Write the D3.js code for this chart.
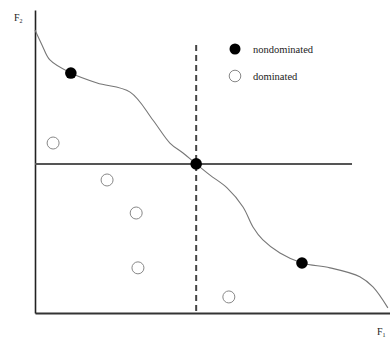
<!DOCTYPE html>
<html>
<head>
<meta charset="utf-8">
<script src="https://cdn.jsdelivr.net/npm/d3@7"></script>
<style>
  html, body { margin: 0; padding: 0; background: #fff; }
  svg { display: block; }
  text { font-family: "Liberation Serif", "Times New Roman", serif; fill: #222; }
</style>
</head>
<body>
<svg id="chart" width="390" height="337"></svg>
<script>
// Pareto front curve (F1, F2)
const frontF1 = [0, 2, 4.2, 10.1, 17.5, 26.8, 33.2, 38, 41.7, 45.4, 49.3, 54.1, 58.6, 61.4, 64.2, 69, 75.2, 83.1, 91.5, 95.2, 99.4];
const frontF2 = [93.4, 88.4, 83.5, 79.2, 75.9, 72.9, 63.7, 56.1, 52.8, 49.2, 45.5, 41.3, 35, 28.4, 24.1, 19.8, 16.5, 14.9, 12, 8.6, 1.7];
// Nondominated solutions
const nondomF1 = [10.1, 45.4, 75.2];
const nondomF2 = [79.2, 49.2, 16.5];
// Dominated solutions
const domF1 = [5.1, 20.3, 28.5, 29, 54.6];
const domF2 = [56.1, 43.9, 33, 14.9, 5.3];
// Reference lines through the middle nondominated point
const refF1 = 45.4, refF2 = 49.2, refF1End = 89.3, refF2End = 89.4;
const legendLabels = ["nondominated", "dominated"];

const svg = d3.select("#chart");
const x = d3.scaleLinear().domain([0, 100]).range([35, 390]);
const y = d3.scaleLinear().domain([0, 100]).range([313, 10]);

// axes (plain lines, no ticks)
svg.append("g").attr("transform", `translate(0,${y(0)})`)
  .call(d3.axisBottom(x).tickValues([]).tickSizeOuter(0))
  .call(g => g.select(".domain").attr("stroke", "#333").attr("stroke-width", 2));
svg.append("g").attr("transform", `translate(${x(0)},0)`)
  .call(d3.axisLeft(y).tickValues([]).tickSizeOuter(0))
  .call(g => g.select(".domain").attr("stroke", "#222").attr("stroke-width", 1.6));

// axis labels
const f2 = svg.append("text").attr("x", 14).attr("y", 21).attr("font-size", 10);
f2.append("tspan").text("F");
f2.append("tspan").attr("font-size", 6).attr("dy", 2).text("2");
const f1 = svg.append("text").attr("x", 377).attr("y", 335).attr("font-size", 10);
f1.append("tspan").text("F");
f1.append("tspan").attr("font-size", 6).attr("dy", 2).text("1");

// horizontal reference line
svg.append("line")
  .attr("x1", x(0)).attr("x2", x(refF1End))
  .attr("y1", y(refF2)).attr("y2", y(refF2))
  .attr("stroke", "#555").attr("stroke-width", 2);
// vertical dashed reference line
svg.append("line")
  .attr("x1", x(refF1)).attr("x2", x(refF1))
  .attr("y1", y(0.7)).attr("y2", y(refF2End))
  .attr("stroke", "#444").attr("stroke-width", 2)
  .attr("stroke-dasharray", "6,4");

// front curve
const front = frontF1.map((v, i) => [v, frontF2[i]]);
svg.append("path")
  .datum(front)
  .attr("fill", "none")
  .attr("stroke", "#777")
  .attr("stroke-width", 1.1)
  .attr("d", d3.line().x(d => x(d[0])).y(d => y(d[1])).curve(d3.curveCatmullRom.alpha(0.5)));

// dominated points
svg.selectAll(".dom").data(domF1.map((v, i) => [v, domF2[i]])).join("circle")
  .attr("cx", d => x(d[0])).attr("cy", d => y(d[1])).attr("r", 6)
  .attr("fill", "#fff").attr("stroke", "#888").attr("stroke-width", 1);

// nondominated points
svg.selectAll(".nd").data(nondomF1.map((v, i) => [v, nondomF2[i]])).join("circle")
  .attr("cx", d => x(d[0])).attr("cy", d => y(d[1])).attr("r", 5.8)
  .attr("fill", "#000");

// legend
const lg = svg.append("g");
lg.append("circle").attr("cx", 235).attr("cy", 49).attr("r", 5.5).attr("fill", "#000");
lg.append("text").attr("x", 253).attr("y", 52.5).attr("font-size", 10.5).text(legendLabels[0]);
lg.append("circle").attr("cx", 235).attr("cy", 76).attr("r", 5.8)
  .attr("fill", "#fff").attr("stroke", "#888").attr("stroke-width", 1);
lg.append("text").attr("x", 253).attr("y", 79.5).attr("font-size", 10.5).text(legendLabels[1]);
</script>
</body>
</html>
